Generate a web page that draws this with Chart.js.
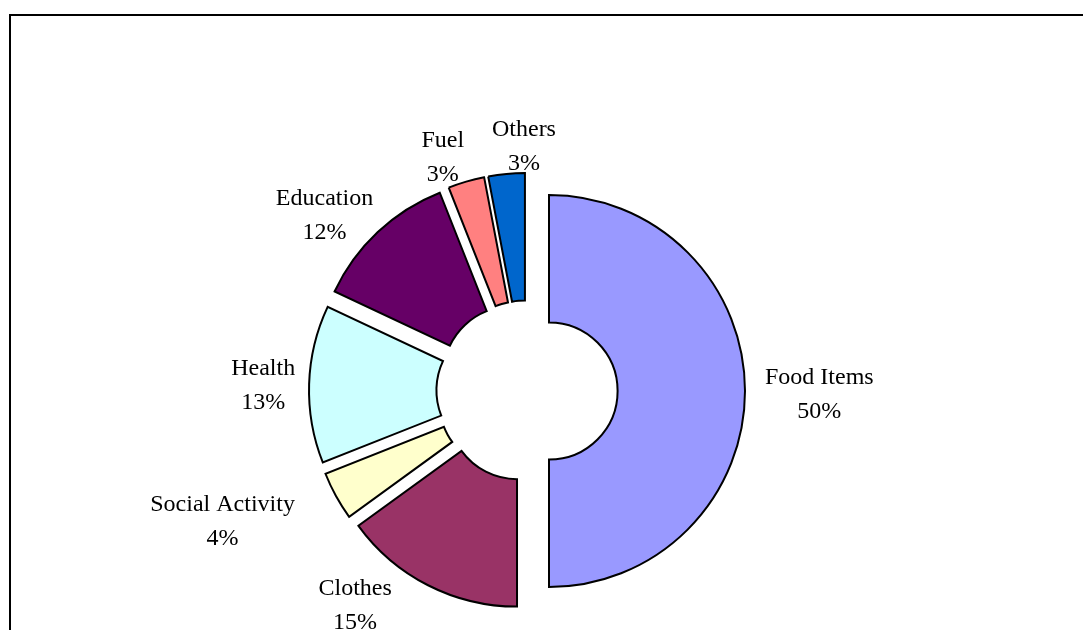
<!DOCTYPE html>
<html lang="en">
<head>
    <meta charset="UTF-8">
    <title>Expenditure</title>
    <script src="https://cdn.jsdelivr.net/npm/chart.js"></script>
    <style>
        html, body { margin: 0; padding: 0; background: #fff; }
        .wrapper { position: relative; width: 1083px; height: 630px; overflow: hidden; }
    </style>
</head>
<body>
    <div class="wrapper">
        <canvas id="ausgabenChart"></canvas>
    </div>
    <script>
const categories = ['Food Items', 'Clothes', 'Social Activity', 'Health', 'Education', 'Fuel', 'Others'];
const shares = [50, 15, 4, 13, 12, 3, 3];
const sliceColours = ['#9999FF', '#993366', '#FFFFCC', '#CCFFFF', '#660066', '#FF8080', '#0066CC'];

const EXPLODE = 22;          // how far every slice is pulled out
const FONT = '24px "Liberation Serif", "Times New Roman", serif';
const LINE_GAP = 34;
// hand tweaks for the label boxes so they sit like the old Excel layout
const labelNudge = [[4, 2], [-49, -18], [-36, 4], [2, 1], [-9, 12], [-13, 14], [22, 12]];

// frame round the whole chart
const framePlugin = {
    id: 'frame',
    beforeDraw(chart) {
        const ctx = chart.ctx;
        ctx.save();
        ctx.strokeStyle = '#000';
        ctx.lineWidth = 2;
        ctx.strokeRect(10, 15, 2000, 2000);
        ctx.restore();
    }
};

// draw each arc moved out along its middle angle, without the radius growth of options.offset
const explodePlugin = {
    id: 'explode',
    beforeDatasetDraw(chart, args) {
        const ctx = chart.ctx;
        args.meta.data.forEach(arc => {
            const mid = (arc.startAngle + arc.endAngle) / 2;
            ctx.save();
            ctx.translate(Math.cos(mid) * EXPLODE, Math.sin(mid) * EXPLODE);
            arc.draw(ctx);
            ctx.restore();
        });
        return false;
    }
};

const labelPlugin = {
    id: 'sliceLabels',
    afterDraw(chart) {
        const ctx = chart.ctx;
        const meta = chart.getDatasetMeta(0);
        const total = shares.reduce((a, b) => a + b, 0);
        ctx.save();
        ctx.font = FONT;
        ctx.fillStyle = '#000';
        ctx.textAlign = 'center';
        ctx.textBaseline = 'alphabetic';
        meta.data.forEach((arc, i) => {
            const mid = (arc.startAngle + arc.endAngle) / 2;
            const cos = Math.cos(mid), sin = Math.sin(mid);
            const lines = [categories[i], Math.round(shares[i] / total * 100) + '%'];
            const w = Math.max(...lines.map(t => ctx.measureText(t).width));
            const capH = 16;
            const h = capH + LINE_GAP;
            const r = arc.outerRadius + EXPLODE + 16;
            const cx = arc.x + cos * r + cos * w / 2 + labelNudge[i][0];
            const cy = arc.y + sin * r + sin * h / 2 + labelNudge[i][1];
            const base = cy - h / 2 + capH;
            ctx.fillText(lines[0], cx, base);
            ctx.fillText(lines[1], cx, base + LINE_GAP);
        });
        ctx.restore();
    }
};

new Chart(document.getElementById('ausgabenChart'), {
    type: 'doughnut',
    data: {
        labels: categories,
        datasets: [{
            data: shares,
            backgroundColor: sliceColours,
            borderColor: '#000',
            borderWidth: 2,
            borderJoinStyle: 'miter',
            hoverOffset: 0
        }]
    },
    options: {
        responsive: true,
        maintainAspectRatio: false,
        animation: false,
        radius: 196,
        cutout: '35%',
        layout: { padding: { left: 0, right: 29, top: 152, bottom: 0 } },
        plugins: {
            legend: { display: false },
            tooltip: { enabled: false }
        },
        events: []
    },
    plugins: [framePlugin, explodePlugin, labelPlugin]
});
    </script>
</body>
</html>
